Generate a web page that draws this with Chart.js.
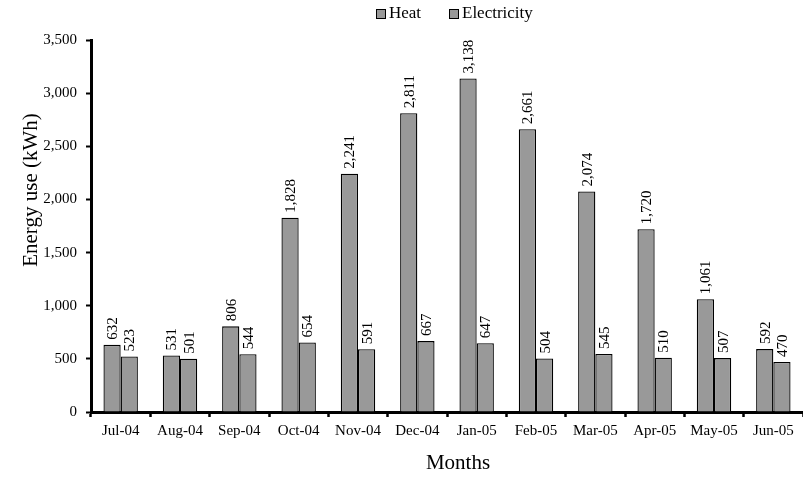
<!DOCTYPE html>
<html>
<head>
<meta charset="utf-8">
<script src="https://cdn.jsdelivr.net/npm/chart.js@4/dist/chart.umd.min.js"></script>
<style>
html,body{margin:0;padding:0;background:#fff;}
#wrap{width:803px;height:478px;position:relative;}
</style>
</head>
<body>
<div id="wrap"><canvas id="c" width="803" height="478"></canvas></div>
<script>
const categories = ["Jul-04","Aug-04","Sep-04","Oct-04","Nov-04","Dec-04","Jan-05","Feb-05","Mar-05","Apr-05","May-05","Jun-05"];
const heat = [632,531,806,1828,2241,2811,3138,2661,2074,1720,1061,592];
const electricity = [523,501,544,654,591,667,647,504,545,510,507,470];
const seriesNames = ["Heat","Electricity"];
const yTicks = [0,500,1000,1500,2000,2500,3000,3500];
const xTitle = "Months";
const yTitle = "Energy use (kWh)";

const FONT = '"Liberation Serif","Times New Roman",serif';
const BAR = '#999999';
const fmt = v => v.toLocaleString('en-US');

const decor = {
  id:'decor',
  afterDatasetsDraw(chart){
    const ctx = chart.ctx;
    ctx.save();
    ctx.fillStyle = '#000';
    ctx.font = '15px ' + FONT;
    chart.data.datasets.forEach((ds, di) => {
      const meta = chart.getDatasetMeta(di);
      meta.data.forEach((el, i) => {
        ctx.save();
        ctx.translate(el.x, el.y - 5);
        ctx.rotate(-Math.PI/2);
        ctx.textAlign = 'left';
        ctx.textBaseline = 'middle';
        ctx.fillText(fmt(ds.data[i]), 0, 1);
        ctx.restore();
      });
    });
    ctx.restore();
  },
  afterDraw(chart){
    const ctx = chart.ctx;
    ctx.save();
    ctx.fillStyle = '#000';
    // axis titles
    ctx.font = '21px ' + FONT;
    ctx.textAlign = 'center';
    ctx.textBaseline = 'middle';
    ctx.fillText(xTitle, 458, 463);
    ctx.save();
    ctx.translate(31, 190);
    ctx.rotate(-Math.PI/2);
    ctx.fillText(yTitle, 0, 0);
    ctx.restore();
    // legend
    ctx.font = '17px ' + FONT;
    ctx.textAlign = 'left';
    const items = [{x:376, label:seriesNames[0]}, {x:449, label:seriesNames[1]}];
    items.forEach(it => {
      ctx.fillStyle = BAR;
      ctx.fillRect(it.x, 9, 10, 10);
      ctx.strokeStyle = '#000';
      ctx.lineWidth = 1;
      ctx.strokeRect(it.x + 0.5, 9.5, 9, 9);
      ctx.fillStyle = '#000';
      ctx.fillText(it.label, it.x + 13, 14);
    });
    ctx.restore();
  }
};

new Chart(document.getElementById('c'), {
  type:'bar',
  data:{
    labels: categories,
    datasets:[
      {label:seriesNames[0], data:heat, backgroundColor:BAR, borderColor:'#000', borderWidth:1.3, categoryPercentage:0.58, barPercentage:1.0},
      {label:seriesNames[1], data:electricity, backgroundColor:BAR, borderColor:'#000', borderWidth:1.3, categoryPercentage:0.58, barPercentage:1.0}
    ]
  },
  options:{
    responsive:false,
    animation:false,
    devicePixelRatio:1,
    layout:{padding:{top:40,left:0,right:0,bottom:0}},
    plugins:{legend:{display:false}, tooltip:{enabled:false}},
    scales:{
      x:{
        offset:true,
        grid:{display:true, drawOnChartArea:false, drawTicks:true, tickLength:5, tickWidth:2.5, tickColor:'#000', offset:true},
        border:{display:true, color:'#000', width:3},
        ticks:{color:'#000', font:{family:FONT, size:15}, padding:5, maxRotation:0, autoSkip:false},
        afterFit(s){ s.height = 66; }
      },
      y:{
        min:0, max:3500,
        grid:{display:true, drawOnChartArea:false, drawTicks:true, tickLength:5, tickWidth:2, tickColor:'#000'},
        border:{display:true, color:'#000', width:3},
        afterBuildTicks(s){ s.ticks = yTicks.map(v => ({value:v})); },
        ticks:{color:'#000', font:{family:FONT, size:15}, padding:9, callback:v => fmt(v)},
        afterFit(s){ s.width = 91; }
      }
    }
  },
  plugins:[decor]
});
</script>
</body>
</html>
